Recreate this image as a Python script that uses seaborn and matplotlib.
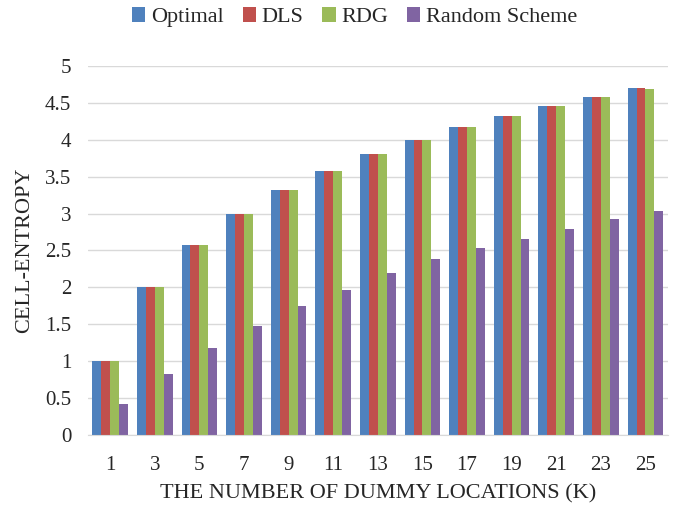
import pandas as pd
import matplotlib
matplotlib.use('Agg')
import matplotlib.pyplot as plt
import seaborn as sns

# valores
k_values = ['1', '3', '5', '7', '9', '11', '13', '15', '17', '19', '21', '23', '25']
optimal = [1.0, 2.0, 2.58, 3.0, 3.32, 3.58, 3.81, 4.0, 4.17, 4.32, 4.46, 4.58, 4.70]
dls = [1.0, 2.0, 2.58, 3.0, 3.32, 3.58, 3.81, 4.0, 4.17, 4.32, 4.46, 4.58, 4.70]
rdg = [1.0, 2.0, 2.58, 3.0, 3.32, 3.58, 3.81, 4.0, 4.17, 4.32, 4.46, 4.58, 4.69]
random_scheme = [0.42, 0.83, 1.18, 1.48, 1.75, 1.97, 2.19, 2.38, 2.53, 2.65, 2.79, 2.92, 3.03]
series = ['Optimal', 'DLS', 'RDG', 'Random Scheme']
cores = ['#4F81BD', '#C0504D', '#9BBB59', '#8064A2']

linhas = []
for nome, vals in zip(series, [optimal, dls, rdg, random_scheme]):
    for k, v in zip(k_values, vals):
        linhas.append({'K': k, 'valor': v, 'metodo': nome})
df = pd.DataFrame(linhas)

sns.set_style('white')
plt.rcParams['font.family'] = ['Liberation Serif', 'DejaVu Serif']

fig, ax = plt.subplots(figsize=(6.92, 5.08), dpi=100)
fig.subplots_adjust(left=0.127, right=0.965, bottom=0.144, top=0.87)

sns.barplot(data=df, x='K', y='valor', hue='metodo', palette=cores, width=0.8,
            saturation=1, edgecolor='none', ax=ax, order=k_values, hue_order=series)

ax.set_ylim(0, 5)
ax.set_yticks([0, 0.5, 1, 1.5, 2, 2.5, 3, 3.5, 4, 4.5, 5])
ax.set_yticklabels(['0', '0.5', '1', '1.5', '2', '2.5', '3', '3.5', '4', '4.5', '5'])
ax.yaxis.grid(True, color='#d9d9d9', linewidth=1)
ax.set_axisbelow(True)
for s in ['top', 'right', 'left']:
    ax.spines[s].set_visible(False)
ax.spines['bottom'].set_color('#d9d9d9')
ax.tick_params(axis='both', labelsize=15, length=0)
ax.tick_params(axis='x', pad=15)
ax.tick_params(axis='y', pad=12)
ax.set_xlabel('THE NUMBER OF DUMMY LOCATIONS (K)', fontsize=16, labelpad=7)
ax.set_ylabel('CELL-ENTROPY', fontsize=16, labelpad=8)

ax.legend(loc='center', bbox_to_anchor=(0.46, 1.132), ncol=4, frameon=False,
          fontsize=16, handlelength=0.6, handleheight=0.6, handletextpad=0.25,
          columnspacing=0.85, title=None)

fig.savefig('out.png', dpi=100)
